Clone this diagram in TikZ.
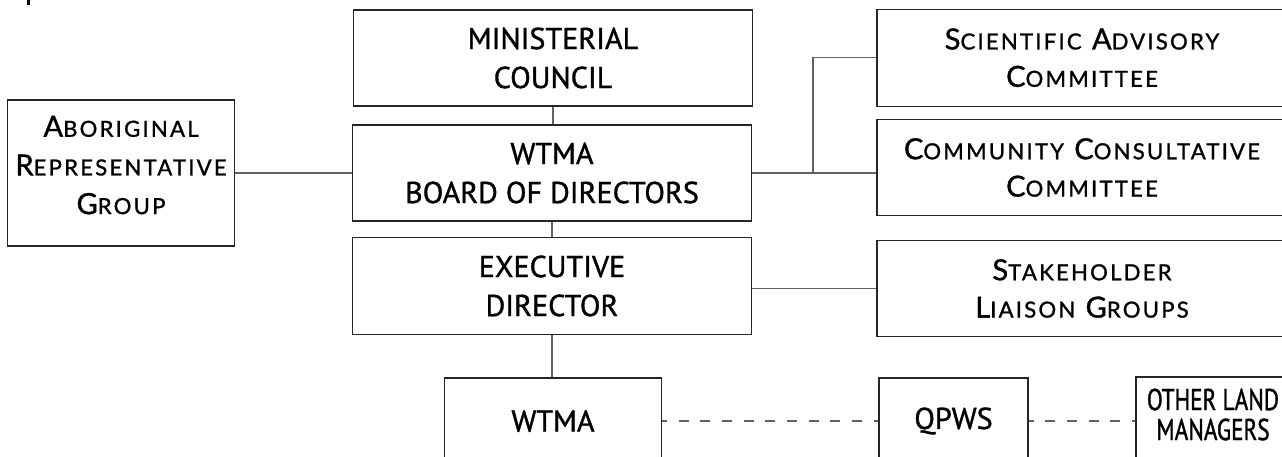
\documentclass[tikz,border=0pt]{standalone}
\usepackage{fontspec}
\setmainfont[UprightFeatures={FakeBold=1.2}]{PT Sans}
\newfontfamily\scfont[LetterSpace=10, UprightFeatures={FakeBold=1.2}]{Lato}
\newfontfamily\narrowfont[FakeStretch=0.77, UprightFeatures={FakeBold=1.2}]{PT Sans}
\newcommand{\capsc}[2]{{\fontsize{21.8}{28}\selectfont #1}{\fontsize{16.6}{28}\selectfont #2}}

\begin{document}
\begin{tikzpicture}[x=0.75pt, y=-0.75pt,
  box/.style={draw=black!85, line width=0.8pt, align=center, inner sep=0pt},
  capstext/.style={font=\fontsize{22.6}{29.25}\selectfont},
  sctext/.style={font=\scfont\fontsize{21.8}{28}\selectfont},
  conn/.style={draw=black!62, line width=1pt},
  dashline/.style={conn, line width=1.3pt, dash pattern=on 7.5pt off 8.75pt, dash phase=3.75pt}]
\useasboundingbox (0,0) rectangle (1282,457);

% stray mark at the top
	\fill[black] (27.3,0) rectangle (30,5);

% centre column
	\node[box, capstext, minimum width=299pt, minimum height=72pt] (minis) at (553,58) {MINISTERIAL\\COUNCIL};
	\node[box, capstext, minimum width=299pt, minimum height=72pt] (board) at (552,173) {WTMA\\BOARD OF DIRECTORS};
	\node[box, capstext, minimum width=299pt, minimum height=72.75pt] (exec) at (552,286) {EXECUTIVE\\DIRECTOR};

% left box
	\node[box, sctext, font=\scfont\fontsize{21.8}{29}\selectfont, text depth=12pt,
	  minimum width=170pt, minimum height=109.5pt] (abor) at (121,173)
	  {\capsc{A}{BORIGINAL}\\\capsc{R}{EPRESENTATIVE}\\\capsc{G}{ROUP}};

% right column
	\node[box, sctext, minimum width=307.5pt, minimum height=72.5pt] (sci) at (1082,57.7)
	  {\capsc{S}{CIENTIFIC} \capsc{A}{DVISORY}\\\capsc{C}{OMMITTEE}};
	\node[box, sctext, minimum width=307.5pt, minimum height=72.4pt] (comm) at (1082,167.5)
	  {\capsc{C}{OMMUNITY} \capsc{C}{ONSULTATIVE}\\\capsc{C}{OMMITTEE}};
	\node[box, sctext, minimum width=307.5pt, minimum height=72.4pt] (stake) at (1082,288.5)
	  {\capsc{S}{TAKEHOLDER}\\\capsc{L}{IAISON} \capsc{G}{ROUPS}};

% bottom row
	\node[box, capstext, minimum width=162.75pt, minimum height=64.5pt] (wtma) at (553,421) {WTMA};
	\node[box, capstext, minimum width=111.75pt, minimum height=64.5pt] (qpws) at (953.5,421) {QPWS};
	\node[box, font=\narrowfont\fontsize{22.6}{22.5}\selectfont, text depth=10pt,
	  minimum width=115.5pt, minimum height=66pt] (other) at (1213,421) {OTHER LAND\\MANAGERS};

% connectors
	\draw[conn] (minis.south) -- (minis.south |- board.north);
	\draw[conn] (board.south) -- (board.south |- exec.north);
	\draw[conn] (exec.south) -- (exec.south |- wtma.north);
	\draw[conn] (abor.east) -- (abor.east -| board.west);
	\draw[conn] (board.east) -- (board.east -| comm.west);
	\coordinate (fork) at (813,173);
	\draw[conn] (fork) |- (sci.west);
	\draw[conn] (stake.west) -- (stake.west -| exec.east);

% dashed links
	\draw[dashline] (wtma.east) -- (qpws.west);
	\draw[dashline] (qpws.east) -- (other.west);

\end{tikzpicture}
\end{document}
